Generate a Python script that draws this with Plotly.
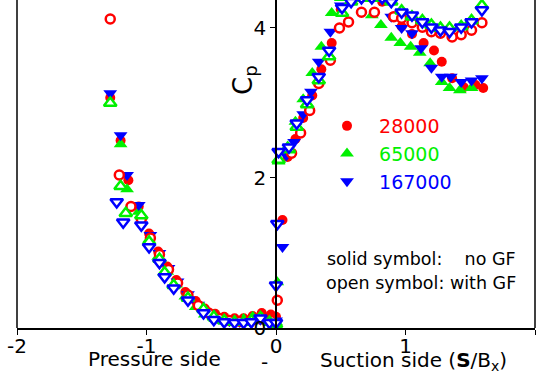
import plotly.graph_objects as go

# ---------------- data ----------------
labels = ["28000", "65000", "167000"]
colors = ["#ff0000", "#00f000", "#0000ff"]
symbols = ["circle", "triangle-up", "triangle-down"]

# solid symbols: no GF
red_solid_x = [-1.28, -1.20, -1.14, -1.06, -0.98, -0.91, -0.84, -0.77, -0.70, -0.62, -0.55, -0.47, -0.40, -0.32, -0.25, -0.18, -0.11, -0.04,
               0.00, 0.05, 0.09, 0.15, 0.21, 0.28, 0.35, 0.43, 0.50, 0.58, 0.66, 0.74, 0.82, 0.90, 0.97, 1.05, 1.14, 1.22, 1.28, 1.36, 1.45, 1.54, 1.60]
red_solid_y = [3.07, 2.50, 1.97, 1.62, 1.26, 1.02, 0.82, 0.64, 0.48, 0.36, 0.26, 0.19, 0.15, 0.13, 0.13, 0.16, 0.20, 0.18,
               0.15, 1.44, 2.28, 2.52, 2.80, 3.10, 3.45, 3.80, 4.25, 4.40, 4.40, 4.40, 4.35, 4.15, 4.02, 3.92, 3.80, 3.70, 3.55, 3.33, 3.21, 3.24, 3.20]

green_solid_x = [-1.28, -1.20, -1.15, -1.06, -0.98, -0.91, -0.84, -0.77, -0.70, -0.62, -0.55, -0.47, -0.40, -0.32, -0.25, -0.18, -0.11, -0.04,
                 0.00, 0.01, 0.02, 0.09, 0.15, 0.21, 0.28, 0.35, 0.43, 0.50, 0.58, 0.66, 0.74, 0.81, 0.89, 0.96, 1.04, 1.11, 1.19, 1.28, 1.34, 1.42, 1.51, 1.60]
green_solid_y = [3.00, 2.45, 1.85, 1.55, 1.18, 0.95, 0.75, 0.58, 0.42, 0.28, 0.18, 0.12, 0.10, 0.10, 0.12, 0.15, 0.14, 0.10,
                 0.08, 0.61, 2.22, 2.42, 2.75, 3.05, 3.40, 3.75, 4.20, 4.40, 4.40, 4.40, 4.17, 4.04, 3.87, 3.80, 3.75, 3.67, 3.53, 3.28, 3.20, 3.17, 3.20]

blue_solid_x = [-1.28, -1.20, -1.15, -1.06, -0.97, -0.90, -0.83, -0.76, -0.68, -0.60, -0.52, -0.44, -0.36, -0.28, -0.20, -0.12, -0.05,
                0.00, 0.05, 0.08, 0.14, 0.21, 0.27, 0.33, 0.42, 0.50, 0.58, 0.66, 0.74, 0.82, 0.89, 0.97, 1.05, 1.12, 1.20, 1.28, 1.35, 1.43, 1.51, 1.59]
blue_solid_y = [3.13, 2.57, 2.04, 1.64, 1.24, 1.00, 0.80, 0.62, 0.45, 0.31, 0.20, 0.12, 0.09, 0.08, 0.09, 0.12, 0.10,
                0.10, 1.08, 2.30, 2.48, 2.85, 3.15, 3.55, 3.95, 4.30, 4.40, 4.40, 4.40, 4.40, 4.15, 4.00, 3.93, 3.73, 3.47, 3.35, 3.35, 3.28, 3.30, 3.33]

# open symbols: with GF
red_open_x = [-1.28, -1.21, -1.12, -1.04, -0.97, -0.90, -0.83, -0.76, -0.68, -0.60, -0.52, -0.44, -0.36, -0.28, -0.20, -0.12, -0.04,
              0.01, 0.12, 0.19, 0.26, 0.33, 0.42, 0.49, 0.56, 0.66, 0.76, 0.91, 0.97, 1.05, 1.13, 1.20, 1.27, 1.36, 1.43, 1.51, 1.59]
red_open_y = [4.12, 2.04, 1.62, 1.45, 1.20, 0.98, 0.78, 0.60, 0.44, 0.30, 0.20, 0.13, 0.10, 0.09, 0.10, 0.12, 0.10,
              0.37, 2.33, 2.60, 2.90, 3.26, 3.57, 4.00, 4.08, 4.21, 4.21, 4.15, 4.13, 4.07, 4.01, 3.95, 3.93, 3.88, 3.91, 3.97, 4.07]

green_open_x = [-1.28, -1.20, -1.16, -1.04, -0.98, -0.90, -0.86, -0.79, -0.68, -0.56, -0.48, -0.40, -0.32, -0.25, -0.19, -0.12, -0.05,
                0.00, 0.02, 0.10, 0.16, 0.24, 0.33, 0.41, 0.51, 0.58, 0.66, 0.74, 0.82, 0.89, 0.97, 1.05, 1.13, 1.20, 1.27, 1.34, 1.43, 1.51, 1.59]
green_open_y = [3.00, 1.89, 1.53, 1.50, 1.15, 0.92, 0.74, 0.57, 0.40, 0.25, 0.15, 0.10, 0.08, 0.08, 0.10, 0.14, 0.08,
                0.05, 2.24, 2.38, 2.68, 2.98, 3.30, 3.62, 4.20, 4.35, 4.40, 4.40, 4.40, 4.35, 4.23, 4.15, 4.10, 4.04, 4.00, 4.00, 4.02, 4.10, 4.30]

blue_open_x = [-1.23, -1.18, -1.04, -0.98, -0.90, -0.86, -0.79, -0.68, -0.56, -0.48, -0.40, -0.32, -0.25, -0.19, -0.12, -0.05,
               0.00, 0.00, 0.01, 0.02, 0.10, 0.16, 0.24, 0.33, 0.41, 0.51, 0.58, 0.66, 0.74, 0.82, 0.89, 0.97, 1.05, 1.13, 1.20, 1.27, 1.34, 1.43, 1.51, 1.59]
blue_open_y = [1.68, 1.41, 1.37, 1.08, 0.87, 0.68, 0.53, 0.37, 0.20, 0.11, 0.08, 0.07, 0.07, 0.08, 0.13, 0.07,
               0.07, 0.57, 1.39, 2.35, 2.41, 2.73, 3.04, 3.35, 3.70, 4.27, 4.35, 4.40, 4.40, 4.40, 4.35, 4.21, 4.17, 4.08, 4.01, 3.97, 3.95, 4.01, 4.08, 4.24]

solid_sets = [(red_solid_x, red_solid_y), (green_solid_x, green_solid_y), (blue_solid_x, blue_solid_y)]
open_sets = [(red_open_x, red_open_y), (green_open_x, green_open_y), (blue_open_x, blue_open_y)]

FONT = "DejaVu Sans, Arial, sans-serif"
fig = go.Figure()

sizes = [10, 12, 12]
for i in range(3):
    x, y = solid_sets[i]
    fig.add_trace(go.Scatter(
        x=x, y=y, mode="markers",
        name=f'<span style="color:{colors[i]}">&nbsp;&nbsp;{labels[i]}</span>',
        marker=dict(symbol=symbols[i], size=sizes[i], color=colors[i], line=dict(width=0)),
        showlegend=True))
for i in range(3):
    x, y = open_sets[i]
    fig.add_trace(go.Scatter(
        x=x, y=y, mode="markers",
        marker=dict(symbol=symbols[i], size=sizes[i] - 1, color="white",
                    line=dict(width=2.5, color=colors[i])),
        showlegend=False))


def px_x(p):
    return (p - 17) / 518


def px_y(p):
    return (328 - p) / 328


fig.update_layout(
    width=538, height=378,
    margin=dict(l=17, r=3, t=0, b=50),
    paper_bgcolor="white", plot_bgcolor="white",
    font=dict(family=FONT, size=20, color="black"),
    xaxis=dict(range=[-2, 2], tickvals=[-2, -1, 0, 1, 2], ticktext=["-2", "-1", "0", "1", "2"],
               showline=True, linecolor="black", linewidth=1.5, ticks="outside", ticklen=5,
               tickcolor="black", showgrid=False, zeroline=False, tickfont=dict(size=20),
               ticklabelstandoff=-6),
    yaxis=dict(range=[0, 4.373], tickvals=[0, 2, 4], anchor="free", position=0.5,
               showline=True, linecolor="black", linewidth=1.5, ticks="outside", ticklen=5,
               tickcolor="black", showgrid=False, zeroline=False, tickfont=dict(size=20)),
    legend=dict(x=px_x(327), y=px_y(107), xanchor="left", yanchor="top", bgcolor="rgba(0,0,0,0)",
                font=dict(size=19, family=FONT), itemsizing="trace", tracegroupgap=0),
    shapes=[
        dict(type="line", xref="paper", yref="paper", x0=0, x1=0, y0=0, y1=1,
             line=dict(color="black", width=1.5)),
        dict(type="line", xref="paper", yref="paper", x0=1, x1=1, y0=0, y1=1,
             line=dict(color="black", width=1.5)),
    ],
    annotations=[
        dict(text="C<sub>p</sub>", xref="paper", yref="paper", x=px_x(244), y=px_y(80),
             xanchor="center", yanchor="middle",
             showarrow=False, textangle=-90, font=dict(size=26, family=FONT)),
        dict(text="Pressure side", xref="paper", yref="paper", x=px_x(154), y=px_y(359),
             xanchor="center", yanchor="middle", showarrow=False, font=dict(size=20, family=FONT)),
        dict(text="-", xref="paper", yref="paper", x=px_x(264), y=px_y(362),
             xanchor="center", yanchor="middle", showarrow=False, font=dict(size=20, family=FONT)),
        dict(text="Suction side (<b>S</b>/B<sub>x</sub>)", xref="paper", yref="paper",
             x=px_x(413), y=px_y(361), xanchor="center", yanchor="middle",
             showarrow=False, font=dict(size=20, family=FONT)),
        dict(text="solid symbol:    no GF", xref="paper", yref="paper", x=px_x(518), y=px_y(259),
             xanchor="right", yanchor="middle", showarrow=False, font=dict(size=17.5, family=FONT)),
        dict(text="open symbol: with GF", xref="paper", yref="paper", x=px_x(518), y=px_y(283),
             xanchor="right", yanchor="middle", showarrow=False, font=dict(size=17.5, family=FONT)),
    ],
)

fig.write_html("out.html")
